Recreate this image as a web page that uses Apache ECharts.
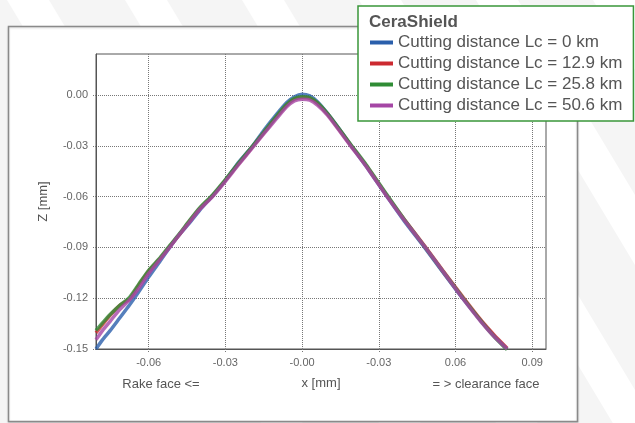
<!DOCTYPE html>
<html><head><meta charset="utf-8">
<script src="https://cdn.jsdelivr.net/npm/echarts@6/dist/echarts.min.js"></script>
<style>html,body{margin:0;padding:0;background:#f5f5f5}#c{width:635px;height:423px}</style>
</head><body><div id="c"></div>
<script>
// ---- data ----
const legendTitle = 'CeraShield';
const seriesNames = ['Cutting distance Lc = 0 km', 'Cutting distance Lc = 12.9 km', 'Cutting distance Lc = 25.8 km', 'Cutting distance Lc = 50.6 km'];
const xValues = [-0.0806, -0.078, -0.075, -0.0715, -0.0675, -0.064, -0.06, -0.0555, -0.0518, -0.048, -0.044, -0.04, -0.035, -0.03, -0.025, -0.0193, -0.015, -0.01, -0.006, -0.003, 0, 0.003, 0.006, 0.01, 0.015, 0.0192, 0.025, 0.033, 0.04, 0.0479, 0.055, 0.063, 0.07, 0.075, 0.0802];
const lc0   = [-0.150, -0.1445, -0.139, -0.132, -0.124, -0.1165, -0.1075, -0.098, -0.090, -0.0825, -0.0755, -0.068, -0.0595, -0.0505, -0.040, -0.030, -0.021, -0.0115, -0.0045, -0.001, 0.0005, -0.0005, -0.004, -0.011, -0.021, -0.030, -0.042, -0.0595, -0.0745, -0.090, -0.1045, -0.1205, -0.1335, -0.142, -0.150];
const lc129 = [-0.1405, -0.1355, -0.130, -0.1245, -0.1205, -0.1125, -0.104, -0.0965, -0.0895, -0.0825, -0.0745, -0.067, -0.0595, -0.0505, -0.041, -0.0305, -0.0225, -0.013, -0.006, -0.0025, -0.0015, -0.002, -0.005, -0.0115, -0.0215, -0.030, -0.0415, -0.059, -0.0735, -0.089, -0.1035, -0.1195, -0.133, -0.1415, -0.1495];
const lc258 = [-0.139, -0.1345, -0.1295, -0.1245, -0.1195, -0.112, -0.1035, -0.096, -0.089, -0.082, -0.074, -0.0665, -0.059, -0.050, -0.0405, -0.030, -0.022, -0.0125, -0.0055, -0.002, -0.001, -0.0015, -0.0045, -0.011, -0.021, -0.0295, -0.041, -0.0585, -0.0735, -0.0895, -0.104, -0.120, -0.1335, -0.1425, -0.1505];
const lc506 = [-0.1445, -0.139, -0.1335, -0.127, -0.121, -0.1145, -0.1055, -0.097, -0.090, -0.0825, -0.075, -0.0675, -0.060, -0.051, -0.0415, -0.031, -0.023, -0.014, -0.007, -0.0035, -0.0025, -0.003, -0.006, -0.012, -0.022, -0.0305, -0.042, -0.0595, -0.074, -0.0895, -0.104, -0.1205, -0.134, -0.1425, -0.150];
const xTickValues = [-0.06, -0.03, 0, 0.03, 0.06, 0.09];
const xTickLabels = ['-0.06', '-0.03', '-0.00', '-0.03', '0.06', '0.09'];
const yTickValues = [0, -0.03, -0.06, -0.09, -0.12, -0.15];
const yTickLabels = ['0.00', '-0.03', '-0.06', '-0.09', '-0.12', '-0.15'];
const xAxisTitle = 'x [mm]';
const yAxisTitle = 'Z [mm]';
const leftNote = 'Rake face <=';
const rightNote = '= > clearance face';

// ---- styles ----
const colors = ['#2a5fab', '#cc2a30', '#2f8c35', '#a546a5'];
const FONT = '"Liberation Sans", Arial, sans-serif';
const seriesY = [lc0, lc129, lc258, lc506];

function lookup(vals, labels, v) {
  const i = vals.findIndex(t => Math.abs(t - v) < 1e-9);
  return i >= 0 ? labels[i] : '';
}

const stripeTops = [7, 125, 242, 359, 476, 593];
const slope = 0.6;
const stripes = stripeTops.map(a => ({
  type: 'polygon', z: -10, silent: true,
  shape: { points: [[a, 0], [a + 42, 0], [a + 42 + slope * 423, 423], [a + slope * 423, 423]] },
  style: { fill: '#ffffff' }
}));

const chart = echarts.init(document.getElementById('c'), null, { renderer: 'canvas' });
chart.setOption({
  animation: false,
  backgroundColor: '#f5f5f5',
  textStyle: { fontFamily: FONT },
  graphic: stripes.concat([
    { type: 'rect', z: -5, silent: true,
      shape: { x: 8.5, y: 26.5, width: 569, height: 395 },
      style: { fill: '#ffffff', stroke: '#8a8a8a', lineWidth: 1.5, shadowColor: 'rgba(0,0,0,0.15)', shadowBlur: 2, shadowOffsetY: 1 } },
    { type: 'text', z: 5, silent: true, x: 161, y: 384,
      style: { text: leftNote, font: '13px ' + FONT, fill: '#555', align: 'center', verticalAlign: 'middle' } },
    { type: 'text', z: 5, silent: true, x: 486, y: 384,
      style: { text: rightNote, font: '13px ' + FONT, fill: '#555', align: 'center', verticalAlign: 'middle' } }
  ]),
  title: {
    text: legendTitle, left: 369, top: 14, padding: 0, z: 10,
    textStyle: { fontFamily: FONT, fontSize: 17, fontWeight: 'bold', color: '#555' }
  },
  legend: {
    orient: 'vertical', left: 358, top: 6,
    padding: [28, 11, 7, 12],
    backgroundColor: '#ffffff', borderColor: '#3a963a', borderWidth: 1.5,
    icon: 'rect', itemWidth: 23, itemHeight: 4, itemGap: 4,
    textStyle: { fontFamily: FONT, fontSize: 17, color: '#555', padding: [0, 0, 0, 0] },
    data: seriesNames
  },
  grid: {
    left: 96, top: 54, width: 450, height: 295,
    show: true, borderColor: '#555', borderWidth: 1, backgroundColor: '#ffffff'
  },
  xAxis: {
    type: 'value', min: -0.0806, max: 0.0954,
    name: xAxisTitle, nameLocation: 'middle', nameGap: 28,
    nameTextStyle: { fontFamily: FONT, fontSize: 13, color: '#555' },
    axisLine: { show: true, onZero: false, lineStyle: { color: '#555', width: 1 } },
    axisTick: { show: true, length: 4, customValues: xTickValues, lineStyle: { color: '#777', type: 'dotted' } },
    axisLabel: { customValues: xTickValues, margin: 8, fontSize: 11, color: '#666', fontFamily: FONT,
      formatter: v => lookup(xTickValues, xTickLabels, v) },
    splitLine: { show: true, lineStyle: { color: '#777', type: 'dotted', width: 1 } }
  },
  yAxis: {
    type: 'value', min: -0.15, max: 0.0242,
    name: yAxisTitle, nameLocation: 'middle', nameGap: 46, nameRotate: 90,
    nameTextStyle: { fontFamily: FONT, fontSize: 13, color: '#555' },
    axisLine: { show: true, onZero: false, lineStyle: { color: '#555', width: 1 } },
    axisTick: { show: true, length: 4, customValues: yTickValues, lineStyle: { color: '#777', type: 'dotted' } },
    axisLabel: { customValues: yTickValues, margin: 8, fontSize: 11, color: '#666', fontFamily: FONT,
      formatter: v => lookup(yTickValues, yTickLabels, v) },
    splitLine: { show: true, lineStyle: { color: '#777', type: 'dotted', width: 1 } }
  },
  series: seriesNames.map((name, i) => ({
    name, type: 'line', showSymbol: false, symbol: 'none', smooth: 0.2,
    data: xValues.map((x, j) => [x, seriesY[i][j]]),
    lineStyle: { color: colors[i], width: 3.5, opacity: 0.8 },
    itemStyle: { color: colors[i] },
    emphasis: { disabled: true }
  }))
});
</script></body></html>
